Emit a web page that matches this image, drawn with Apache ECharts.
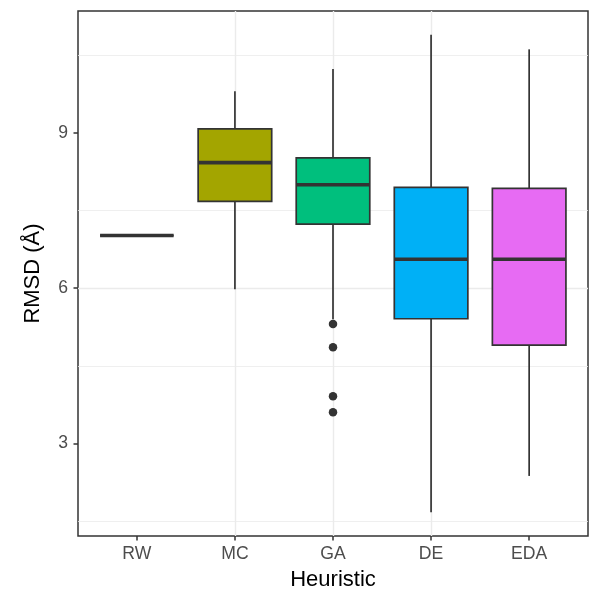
<!DOCTYPE html>
<html>
<head>
<meta charset="utf-8">
<script src="https://cdn.jsdelivr.net/npm/echarts@6/dist/echarts.min.js"></script>
<style>
  html, body { margin: 0; padding: 0; background: #fff; }
  #box { width: 600px; height: 600px; }
</style>
</head>
<body>
<div id="box"></div>
<script>
// five-number summaries
const categories = ['RW', 'MC', 'GA', 'DE', 'EDA'];
const whiskerLow = [7.02, 5.98, 5.40, 1.67, 2.37];
const q1 = [7.02, 7.68, 7.24, 5.41, 4.90];
const medians = [7.02, 8.43, 8.00, 6.56, 6.56];
const q3 = [7.02, 9.08, 8.52, 7.95, 7.93];
const whiskerHigh = [7.02, 9.81, 10.24, 10.90, 10.62];
const fills = ['#F8766D', '#A3A500', '#00BF7D', '#00B0F6', '#E76BF3'];

const outlierCat = ['GA', 'GA', 'GA', 'GA'];
const outlierVal = [5.31, 4.86, 3.91, 3.60];

const yTicks = [3, 6, 9];
const yMinor = [1.5, 4.5, 7.5, 10.5];
const xPositions = [1, 2, 3, 4, 5];

// ggplot-style 5% expansion of the data range
const allVals = whiskerLow.concat(whiskerHigh, outlierVal);
const lo = Math.min(...allVals), hi = Math.max(...allVals);
const yMin = lo - (hi - lo) * 0.05;
const yMax = hi + (hi - lo) * 0.05;

const font = 'Liberation Sans, Arial, sans-serif';
const chart = echarts.init(document.getElementById('box'));

const option = {
  backgroundColor: '#fff',
  animation: false,
  textStyle: { fontFamily: font },
  grid: [
    { left: 78, right: 12, top: 11, bottom: 64, show: true, borderColor: '#333333', borderWidth: 1.5, backgroundColor: '#fff' },
    { left: 78 + 510 * 0.1 / 5.2, right: 12 + 510 * 0.1 / 5.2, top: 11, bottom: 64 }
  ],
  xAxis: [
    {
      type: 'value', gridIndex: 0, min: 0.4, max: 5.6, splitNumber: 5,
      axisLine: { show: false },
      axisTick: { show: false, customValues: xPositions },
      axisLabel: { show: false, customValues: xPositions },
      splitLine: { show: true, showMinLine: false, showMaxLine: false, lineStyle: { color: '#ebebeb', width: 1.4 } },
      name: 'Heuristic', nameLocation: 'middle', nameGap: 33,
      nameTextStyle: { fontSize: 22, color: '#000', fontFamily: font }
    },
    {
      type: 'category', gridIndex: 1, data: categories, boundaryGap: true,
      axisLine: { show: false },
      axisTick: { show: true, alignWithLabel: true, length: 4.5, lineStyle: { color: '#333', width: 1.5 } },
      axisLabel: { color: '#4d4d4d', fontSize: 17.6, margin: 9, fontFamily: font },
      splitLine: { show: false }
    }
  ],
  yAxis: [
    {
      type: 'value', gridIndex: 0, min: yMin, max: yMax, splitNumber: 3,
      axisLine: { show: false },
      axisTick: { show: true, length: 4.5, customValues: yTicks, lineStyle: { color: '#333', width: 1.5 } },
      axisLabel: {
        customValues: yTicks, color: '#4d4d4d', fontSize: 17.6, margin: 10, fontFamily: font,
        formatter: v => (yTicks.indexOf(Math.round(v * 100) / 100) >= 0 ? String(v) : '')
      },
      splitLine: { show: true, showMinLine: false, showMaxLine: false, lineStyle: { color: '#ebebeb', width: 1.4 } },
      name: 'RMSD (Å)', nameLocation: 'middle', nameGap: 34,
      nameTextStyle: { fontSize: 22, color: '#000', fontFamily: font }
    },
    {
      type: 'value', gridIndex: 1, min: yMin, max: yMax,
      show: false, splitLine: { show: false }
    }
  ],
  series: [
    {
      // minor grid lines
      type: 'line', xAxisIndex: 0, yAxisIndex: 0, data: [], silent: true, z: 1,
      markLine: {
        silent: true, symbol: 'none', label: { show: false }, z: 1,
        lineStyle: { color: '#ebebeb', width: 0.8, type: 'solid' },
        emphasis: { disabled: true },
        data: yMinor.map(v => ({ yAxis: v }))
      }
    },
    {
      type: 'custom', xAxisIndex: 1, yAxisIndex: 1, z: 6,
      data: categories.map((c, i) => [i, whiskerLow[i], q1[i], medians[i], q3[i], whiskerHigh[i]]),
      encode: { x: 0, y: [1, 2, 3, 4, 5] },
      renderItem: function (params, api) {
        const i = api.value(0);
        const pLow = api.coord([i, api.value(1)]);
        const pQ1 = api.coord([i, api.value(2)]);
        const pMed = api.coord([i, api.value(3)]);
        const pQ3 = api.coord([i, api.value(4)]);
        const pHigh = api.coord([i, api.value(5)]);
        const half = api.size([1, 0])[0] * 0.375;
        const cx = pMed[0];
        const stroke = { stroke: '#333333', lineWidth: 1.7 };
        return {
          type: 'group',
          children: [
            { type: 'line', shape: { x1: cx, y1: pQ3[1], x2: cx, y2: pHigh[1] }, style: stroke },
            { type: 'line', shape: { x1: cx, y1: pQ1[1], x2: cx, y2: pLow[1] }, style: stroke },
            {
              type: 'rect',
              shape: { x: cx - half, y: pQ3[1], width: half * 2, height: pQ1[1] - pQ3[1] },
              style: { fill: fills[i], stroke: '#333333', lineWidth: 1.7 }
            },
            {
              type: 'line',
              shape: { x1: cx - half, y1: pMed[1], x2: cx + half, y2: pMed[1] },
              style: { stroke: '#333333', lineWidth: 3.6 }
            }
          ]
        };
      }
    },
    {
      type: 'scatter', xAxisIndex: 1, yAxisIndex: 1, z: 7,
      symbolSize: 8.5,
      itemStyle: { color: '#333333', opacity: 1 },
      data: outlierCat.map((c, i) => [c, outlierVal[i]])
    }
  ]
};

chart.setOption(option);
</script>
</body>
</html>
